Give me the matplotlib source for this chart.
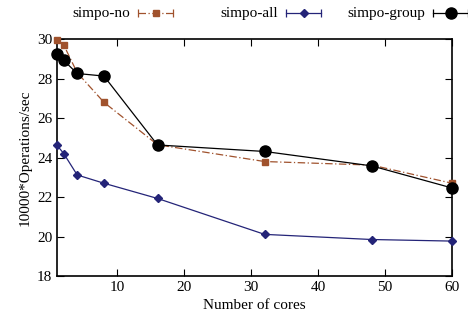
import matplotlib
matplotlib.use("Agg")
import matplotlib.pyplot as plt
from matplotlib.lines import Line2D

plt.rcParams["font.family"] = ["Liberation Serif", "DejaVu Serif"]

cores = [1, 2, 4, 8, 16, 32, 48, 60]
simpo_no = [29.95, 29.7, 28.3, 26.8, 24.65, 23.8, 23.62, 22.7]
simpo_all = [24.62, 24.2, 23.12, 22.7, 21.93, 20.11, 19.85, 19.77]
simpo_group = [29.27, 28.92, 28.26, 28.13, 24.64, 24.31, 23.58, 22.46]

labels = ["simpo-no", "simpo-all", "simpo-group"]
colors = ["#a0522d", "#242478", "black"]

fig = plt.figure(figsize=(4.68, 3.29), dpi=100)
ax = fig.add_axes([0.122, 0.161, 0.844, 0.72])

ax.plot(cores, simpo_no, color=colors[0], linestyle=(0, (6, 2, 1, 2)), lw=0.9,
        marker="s", ms=4.5, zorder=3, clip_on=False)
ax.plot(cores, simpo_all, color=colors[1], lw=0.9, marker="D", ms=4, zorder=3,
        clip_on=False)
ax.plot(cores, simpo_group, color=colors[2], lw=0.9, marker="o", ms=8, zorder=4,
        clip_on=False)

ax.set_xlim(1, 60)
ax.set_ylim(18, 30)
ax.set_xticks([10, 20, 30, 40, 50, 60])
ax.set_yticks([18, 20, 22, 24, 26, 28, 30])
ax.tick_params(direction="in", top=True, right=True, labelsize=11, length=5, width=0.8)
for s in ax.spines.values():
    s.set_linewidth(1.2)
ax.set_xlabel("Number of cores", fontsize=11)
ax.set_ylabel("10000*Operations/sec", fontsize=11)

# gnuplot style key on top
styles = [dict(linestyle=(0, (6, 2, 1, 2)), marker="s", ms=4.5),
          dict(linestyle="-", marker="D", ms=4),
          dict(linestyle="-", marker="o", ms=8)]
text_right = [130, 278, 425]
ky = 1 - 13 / 329
for lab, col, st, tx in zip(labels, colors, styles, text_right):
    fig.text(tx / 468, ky, lab, ha="right", va="center", fontsize=11)
    x0, x1 = (tx + 8) / 468, (tx + 43) / 468
    fig.add_artist(Line2D([x0, x1], [ky, ky], color=col, lw=0.9,
                          linestyle=st["linestyle"]))
    fig.add_artist(Line2D([x0, x1], [ky, ky], color=col, lw=0,
                          marker="|", ms=6, mew=0.9))
    fig.add_artist(Line2D([(x0 + x1) / 2], [ky], color=col, lw=0,
                          marker=st["marker"], ms=st["ms"]))

fig.savefig("out.png", dpi=100)
